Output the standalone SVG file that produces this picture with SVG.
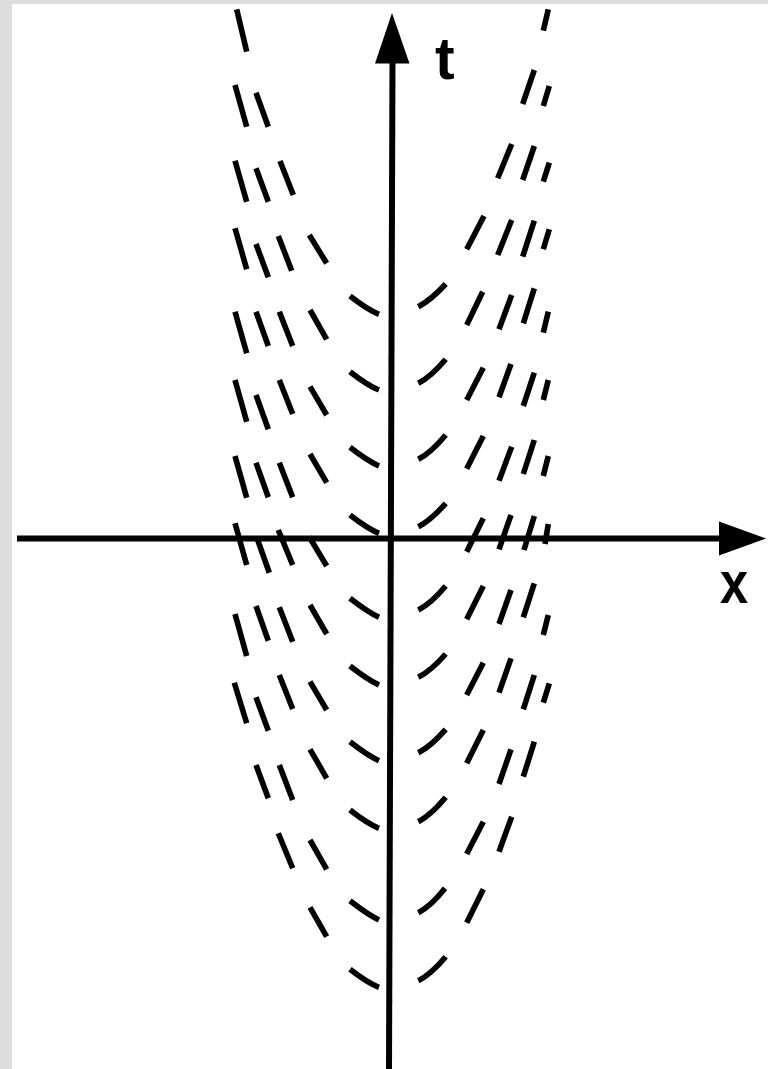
<svg xmlns="http://www.w3.org/2000/svg" width="768" height="1069" viewBox="0 0 768 1069">
<style>
.d{stroke:#000;stroke-width:5.6;fill:none;stroke-linecap:butt}
.ax{stroke:#000;stroke-width:6;fill:none}
.lbl{font-family:"Liberation Sans",Arial,sans-serif;font-weight:bold;font-size:59px;fill:#000}
</style>
<rect x="0" y="0" width="768" height="1069" fill="#fff"/>
<rect x="0" y="0" width="12" height="1069" fill="#dddddd"/>
<rect x="0" y="0" width="768" height="4" fill="#dddddd"/>
<g id="curves">
<line class="d" x1="236.7" y1="9.3" x2="246.7" y2="51.7"/>
<line class="d" x1="548.3" y1="9.3" x2="543.3" y2="30.7"/>
<line class="d" x1="235" y1="85" x2="246.7" y2="126.7"/>
<line class="d" x1="256" y1="92.7" x2="268.3" y2="126.7"/>
<line class="d" x1="534.3" y1="70" x2="522.7" y2="104"/>
<line class="d" x1="549.3" y1="86" x2="543.3" y2="106"/>
<line class="d" x1="235" y1="160.7" x2="246.7" y2="201.7"/>
<line class="d" x1="256" y1="168.3" x2="268.3" y2="201.7"/>
<line class="d" x1="280" y1="161" x2="293.3" y2="195"/>
<line class="d" x1="511.7" y1="144" x2="497.7" y2="178.3"/>
<line class="d" x1="534.3" y1="146" x2="522.7" y2="180"/>
<line class="d" x1="549.3" y1="162.7" x2="543.3" y2="181.7"/>
<line class="d" x1="235" y1="228.3" x2="246.7" y2="269.3"/>
<line class="d" x1="256" y1="244" x2="268.3" y2="277.3"/>
<line class="d" x1="278.3" y1="236" x2="291.7" y2="270.7"/>
<line class="d" x1="309.3" y1="235" x2="326.7" y2="263.3"/>
<line class="d" x1="484" y1="216" x2="466.7" y2="249.3"/>
<line class="d" x1="511.7" y1="220" x2="497.7" y2="255"/>
<line class="d" x1="534.3" y1="220.7" x2="522.7" y2="256.7"/>
<line class="d" x1="549.3" y1="229.3" x2="543.3" y2="249.3"/>
<line class="d" x1="235" y1="311.7" x2="246.7" y2="353.3"/>
<line class="d" x1="256" y1="311.7" x2="268.3" y2="346"/>
<line class="d" x1="279.3" y1="311.7" x2="292.7" y2="346"/>
<line class="d" x1="310" y1="310" x2="326.7" y2="339.3"/>
<path class="d" d="M350,296 Q368,310 379,314.3"/>
<path class="d" d="M418.3,306.7 Q431,300 445.7,284"/>
<line class="d" x1="482.7" y1="291.7" x2="466.7" y2="325"/>
<line class="d" x1="511.7" y1="295" x2="499" y2="329.3"/>
<line class="d" x1="534.3" y1="288.3" x2="523.3" y2="323.3"/>
<line class="d" x1="548.3" y1="311.7" x2="543.3" y2="332.7"/>
<line class="d" x1="235" y1="380" x2="246.7" y2="421.7"/>
<line class="d" x1="256" y1="395" x2="268.3" y2="429.3"/>
<line class="d" x1="279.3" y1="380" x2="292.7" y2="414"/>
<line class="d" x1="310" y1="386.7" x2="326.7" y2="415"/>
<path class="d" d="M350,371.7 Q368,385.7 379,390"/>
<path class="d" d="M418.3,383.3 Q431,376.8 445.7,359.3"/>
<line class="d" x1="483.3" y1="367.7" x2="466.7" y2="400"/>
<line class="d" x1="511" y1="364" x2="499" y2="397.3"/>
<line class="d" x1="534.3" y1="372.7" x2="523.3" y2="406"/>
<line class="d" x1="548.3" y1="380" x2="543.3" y2="400"/>
<line class="d" x1="235" y1="456" x2="246.7" y2="497.7"/>
<line class="d" x1="256" y1="462.7" x2="268.3" y2="497.3"/>
<line class="d" x1="279.3" y1="462.7" x2="292.7" y2="497.3"/>
<line class="d" x1="310" y1="454" x2="326.7" y2="482.7"/>
<path class="d" d="M350,447.3 Q368,461.3 379,466"/>
<path class="d" d="M418.3,459.3 Q431,452.8 445.7,435"/>
<line class="d" x1="483.3" y1="436" x2="466.7" y2="468.7"/>
<line class="d" x1="511.7" y1="446.7" x2="499" y2="480.7"/>
<line class="d" x1="534.3" y1="440" x2="523.3" y2="474"/>
<line class="d" x1="548.3" y1="456" x2="543.3" y2="476"/>
<line class="d" x1="235" y1="523.3" x2="246.7" y2="565"/>
<line class="d" x1="257" y1="538" x2="269.3" y2="572.7"/>
<line class="d" x1="278.3" y1="530" x2="292.7" y2="565"/>
<line class="d" x1="309.3" y1="537" x2="326.7" y2="566"/>
<path class="d" d="M350,515 Q368,529 379,533.3"/>
<path class="d" d="M418.3,526.7 Q431,520.2 445.7,503.3"/>
<line class="d" x1="483.3" y1="518.3" x2="466.7" y2="551.7"/>
<line class="d" x1="511" y1="515" x2="499" y2="549.3"/>
<line class="d" x1="534.3" y1="516" x2="524" y2="550"/>
<line class="d" x1="548.3" y1="524" x2="545" y2="544"/>
<line class="d" x1="235" y1="614" x2="246.7" y2="656"/>
<line class="d" x1="256" y1="606" x2="268.3" y2="640.7"/>
<line class="d" x1="279.3" y1="607.3" x2="292.7" y2="641.7"/>
<line class="d" x1="310" y1="605" x2="326.7" y2="634"/>
<path class="d" d="M350,598.3 Q368,612.3 379,617.3"/>
<path class="d" d="M418.3,610 Q431,603.5 445.7,586"/>
<line class="d" x1="483.3" y1="586" x2="466.7" y2="619.3"/>
<line class="d" x1="511" y1="590" x2="499" y2="624"/>
<line class="d" x1="534.3" y1="583.3" x2="523.3" y2="617.3"/>
<line class="d" x1="548.3" y1="615" x2="543.3" y2="635"/>
<line class="d" x1="234.3" y1="682.7" x2="246.7" y2="723.3"/>
<line class="d" x1="256" y1="697.3" x2="268.3" y2="730.7"/>
<line class="d" x1="279.3" y1="675" x2="292.7" y2="709"/>
<line class="d" x1="310" y1="681.7" x2="326.7" y2="710"/>
<path class="d" d="M350,666 Q368,680 379,685"/>
<path class="d" d="M418.3,677.3 Q431,670.8 445.7,654"/>
<line class="d" x1="483.3" y1="662.7" x2="466.7" y2="695"/>
<line class="d" x1="511" y1="658.3" x2="499" y2="692.7"/>
<line class="d" x1="534.3" y1="675" x2="523.3" y2="709.3"/>
<line class="d" x1="549.3" y1="683.3" x2="543.3" y2="702.7"/>
<line class="d" x1="256" y1="765" x2="268.3" y2="798.3"/>
<line class="d" x1="279.3" y1="765" x2="292.7" y2="800"/>
<line class="d" x1="310" y1="749.3" x2="326.7" y2="778.3"/>
<path class="d" d="M350,741.7 Q368,755.7 379,760.7"/>
<path class="d" d="M418.3,752.7 Q431,746.2 445.7,729.3"/>
<line class="d" x1="483.3" y1="730" x2="466.7" y2="763.3"/>
<line class="d" x1="511" y1="749.3" x2="499" y2="784"/>
<line class="d" x1="534.3" y1="741.7" x2="523.3" y2="776.7"/>
<line class="d" x1="278.3" y1="833.3" x2="292.7" y2="868.3"/>
<line class="d" x1="310" y1="840" x2="326.7" y2="869.3"/>
<path class="d" d="M350,810 Q368,824 379,828.3"/>
<path class="d" d="M418.3,821.7 Q431,815.2 445.7,797.3"/>
<line class="d" x1="483.3" y1="821.7" x2="466.7" y2="854"/>
<line class="d" x1="511.7" y1="816.7" x2="499" y2="851.7"/>
<line class="d" x1="310" y1="907.3" x2="326.7" y2="936.7"/>
<path class="d" d="M350,900.7 Q368,914.7 379,920"/>
<path class="d" d="M418.3,912.7 Q431,906.2 445,888.3"/>
<line class="d" x1="483.3" y1="889.3" x2="466.7" y2="922.7"/>
<path class="d" d="M350,969.3 Q368,983.3 379,987.3"/>
<path class="d" d="M418.3,980.7 Q431,974.2 445.7,956.7"/>
</g>
<g id="axes">
<line class="ax" x1="17" y1="538.5" x2="722" y2="538.5"/>
<polygon points="719,521.5 766,538.5 719,555.5" fill="#000"/>
<line class="ax" x1="389" y1="1069" x2="392.5" y2="60"/>
<polygon points="375,63.5 392,13 409.5,63.5" fill="#000"/>
</g>
<g id="labels">
<text class="lbl" x="435" y="79">t</text>
<text class="lbl" transform="translate(720,603) scale(0.86,1)">x</text>
</g>
</svg>
